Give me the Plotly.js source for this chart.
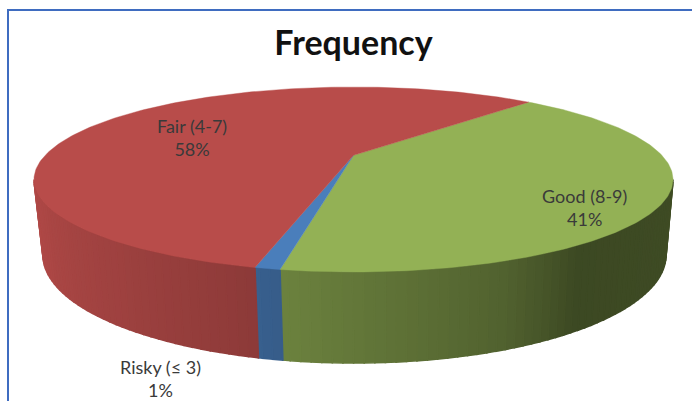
<!DOCTYPE html>
<html>
<head>
<meta charset="utf-8">
<script src="https://cdn.plot.ly/plotly-3.0.1.min.js"></script>
<style>html,body{margin:0;padding:0;background:#fff}#chart{width:692px;height:401px}</style>
</head>
<body>
<div id="chart"></div>
<script>
// Frequency shares by score band
const categories = ["Good (8-9)", "Risky (≤ 3)", "Fair (4-7)"];
const shares = [41, 1, 58];
const faceColors = [[147, 177, 85], [74, 126, 187], [184, 76, 74]];
const labelAnchors = [[584, 207], [160, 378], [192, 137]];

// Drawing geometry of the tilted disc, in pixel-like axis units
const firstSliceAngle = 42.6;
const tilt = 0.261;
const topRim = {cx: 353.5, cy: 179.5, a: 319.5, b: 92.5};
const bottomRim = {cx: 354.5, cy: 255, a: 311.5, b: 108};
const shadeAngles = [105, 145, 158, 172, 190, 195, 218, 245, 255];
const shadeFactors = [0.43, 0.41, 0.55, 0.63, 0.73, 0.77, 0.86, 0.94, 0.95];

function project(deg, rim) {
  const t = deg * Math.PI / 180;
  const u = Math.sin(t), v = -Math.cos(t), w = 1 - tilt * v;
  const ex = Math.sqrt(1 - tilt * tilt) * u / w;
  const ey = v * (1 - tilt * tilt) / w - tilt;
  return [rim.cx + rim.a * ex, rim.cy + rim.b * ey];
}
function shadeAt(deg) {
  for (let i = 1; i < shadeAngles.length; i++) {
    if (deg <= shadeAngles[i]) {
      const f = (deg - shadeAngles[i - 1]) / (shadeAngles[i] - shadeAngles[i - 1]);
      return shadeFactors[i - 1] + f * (shadeFactors[i] - shadeFactors[i - 1]);
    }
  }
  return shadeFactors[shadeFactors.length - 1];
}
function rgb(c, m) {
  return "rgb(" + c.map(p => Math.round(p * m)).join(",") + ")";
}
function polygon(points, color, width) {
  return {
    type: "scatter", mode: "lines", hoverinfo: "skip", showlegend: false,
    x: points.map(p => p[0]), y: points.map(p => p[1]),
    fill: "toself", fillcolor: color,
    line: {color: color, width: width}
  };
}

const total = shares.reduce((s, v) => s + v, 0);
const wallStart = 180 - Math.acos(tilt) * 180 / Math.PI;
const wallEnd = 360 - wallStart;
const stripStep = 1.5;
const wallTraces = [], faceTraces = [];
let from = firstSliceAngle;
shares.forEach((value, i) => {
  const to = from + value / total * 360;
  // Side wall, split into narrow strips so the shading can vary along the rim
  const lo = Math.max(from, wallStart), hi = Math.min(to, wallEnd);
  for (let d = lo; d < hi - 1e-6; d += stripStep) {
    const e = Math.min(d + stripStep, hi);
    wallTraces.push(polygon(
      [project(d, topRim), project(e, topRim), project(e, bottomRim), project(d, bottomRim), project(d, topRim)],
      rgb(faceColors[i], shadeAt((d + e) / 2)), 1.6));
  }
  // Top face of the slice
  const apex = [topRim.cx, topRim.cy - topRim.b * tilt];
  const pts = [apex];
  for (let d = from; d < to; d += 1) pts.push(project(d, topRim));
  pts.push(project(to, topRim), apex);
  faceTraces.push(polygon(pts, rgb(faceColors[i], 1), 0.4));
  from = to;
});

const annotations = categories.map((name, i) => ({
  x: labelAnchors[i][0], y: labelAnchors[i][1], xref: "x", yref: "y",
  text: name + "<br>" + shares[i] + "%",
  showarrow: false, align: "center",
  font: {family: "Lato, Carlito, sans-serif", size: 18, color: "#3a3a3a"}
}));

const layout = {
  width: 692, height: 401,
  margin: {l: 0, r: 0, t: 0, b: 0},
  paper_bgcolor: "#fff", plot_bgcolor: "#fff",
  showlegend: false,
  title: {
    text: "<b>Frequency</b>", x: 353.5 / 692, xanchor: "center", y: 1 - 43 / 401, yanchor: "middle",
    font: {family: "Lato, Carlito, sans-serif", size: 34, color: "#111"}
  },
  xaxis: {range: [0, 692], visible: false, fixedrange: true},
  yaxis: {range: [401, 0], visible: false, fixedrange: true},
  shapes: [{type: "rect", xref: "x", yref: "y", x0: 8, y0: 10, x1: 760, y1: 460,
            line: {color: "#3f6cc0", width: 2}, fillcolor: "rgba(0,0,0,0)", layer: "below"}],
  annotations: annotations
};

Plotly.newPlot("chart", wallTraces.concat(faceTraces), layout, {displayModeBar: false, staticPlot: true});
</script>
</body>
</html>
